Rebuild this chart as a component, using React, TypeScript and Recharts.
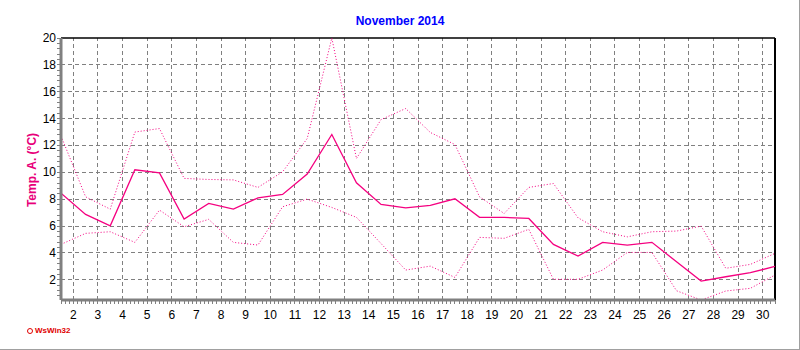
import { LineChart, Line, XAxis, YAxis, ReferenceLine } from 'recharts';

// November 2014, daily air temperature (°C)
const days = [1, 2, 3, 4, 5, 6, 7, 8, 9, 10, 11, 12, 13, 14, 15, 16, 17, 18, 19, 20, 21, 22, 23, 24, 25, 26, 27, 28, 29, 30];
const tempMean = [8.45, 6.87, 6.02, 10.19, 9.96, 6.52, 7.69, 7.26, 8.1, 8.36, 9.87, 12.82, 9.22, 7.61, 7.36, 7.54, 8.03, 6.65, 6.65, 6.57, 4.64, 3.77, 4.79, 4.59, 4.79, 3.35, 1.91, 2.23, 2.53, 3.0];
const tempMax = [12.71, 8.18, 7.26, 13.0, 13.26, 9.55, 9.47, 9.44, 8.88, 10.04, 12.52, 20, 11.03, 13.93, 14.75, 12.97, 12.07, 8.18, 6.94, 8.88, 9.17, 6.62, 5.58, 5.2, 5.58, 5.63, 6.0, 2.86, 3.15, 3.97];
const tempMin = [4.64, 5.46, 5.58, 4.79, 7.19, 5.95, 6.5, 4.79, 4.59, 7.44, 8.01, 7.39, 6.65, 4.7, 2.73, 3.02, 2.18, 5.16, 5.09, 5.76, 2.04, 2.04, 2.73, 4.04, 4.04, 1.19, 0.5, 1.17, 1.37, 2.36];

const xLabels = [2, 3, 4, 5, 6, 7, 8, 9, 10, 11, 12, 13, 14, 15, 16, 17, 18, 19, 20, 21, 22, 23, 24, 25, 26, 27, 28, 29, 30];
const yLabels = [2, 4, 6, 8, 10, 12, 14, 16, 18, 20];

const LINE = '#f50080';
const GRID = '#808080';
const FONT = '"Liberation Sans", Arial, sans-serif';

const X_MIN = 1.5;
const X_MAX = 30.5;
const Y_MIN = 0.5;
const Y_MAX = 20;

const data = days.map((d, i) => ({
  x: d + 0.5,
  mean: tempMean[i],
  max: tempMax[i],
  min: tempMin[i],
}));

// minor ticks: 6 per day on x, every 0.4 on y
const xTicks: number[] = [];
for (let v = X_MIN; v <= X_MAX + 1e-6; v += 1 / 6) xTicks.push(Math.round(v * 1000) / 1000);
const yTicks: number[] = [];
for (let v = Y_MAX; v > Y_MIN; v -= 0.4) yTicks.push(Math.round(v * 10) / 10);

const isLabel = (list: number[], v: number) => list.some((l) => Math.abs(l - v) < 1e-3);

const XTick = (props: any) => {
  const x = Number(props.x);
  const y = Number(props.y);
  const v = props.payload.value;
  const lab = isLabel(xLabels, v);
  return (
    <g>
      <line x1={x} x2={x} y1={y} y2={y + 4} stroke={GRID} strokeWidth={1} shapeRendering="crispEdges" />
      {lab && (
        <text x={x} y={y + 19} textAnchor="middle" fontSize={12} fontFamily={FONT} fill="#000">
          {Math.round(v)}
        </text>
      )}
    </g>
  );
};

const YTick = (props: any) => {
  const x = Number(props.x);
  const y = Number(props.y);
  const v = props.payload.value;
  const lab = isLabel(yLabels, v);
  return (
    <g>
      <line x1={x - 4} x2={x} y1={y} y2={y} stroke={GRID} strokeWidth={1} shapeRendering="crispEdges" />
      {lab && (
        <text x={x - 5} y={y + 4} textAnchor="end" fontSize={12} fontFamily={FONT} fill="#000">
          {Math.round(v)}
        </text>
      )}
    </g>
  );
};

export default function App() {
  return (
    <div style={{ position: 'absolute', left: 0, top: 0, width: 800, height: 350, background: '#fff', fontFamily: FONT }}>
      <div
        style={{
          position: 'absolute', left: 0, top: 14, width: 800, textAlign: 'center',
          color: '#0000ff', fontWeight: 'bold', fontSize: 12,
        }}
      >
        November 2014
      </div>
      <div
        style={{
          position: 'absolute', left: 32, top: 170, transform: 'translate(-50%, -50%) rotate(-90deg)',
          whiteSpace: 'nowrap', color: '#e8007a', fontWeight: 'bold', fontSize: 12,
        }}
      >
        Temp. A. (°C)
      </div>
      <div
        style={{
          position: 'absolute', left: 27, top: 326, color: '#e00000', fontWeight: 'bold', fontSize: 8,
          display: 'flex', alignItems: 'center', gap: 2,
        }}
      >
        <span style={{ display: 'inline-block', width: 4, height: 4, borderRadius: 3, border: '1px solid #e00000' }} />
        WsWin32
      </div>
      <div style={{ position: 'absolute', left: 0, top: 349, width: 800, height: 1, background: '#a0a0a0' }} />
      <div style={{ position: 'absolute', left: 799, top: 0, width: 1, height: 350, background: '#a0a0a0' }} />
      <LineChart width={800} height={350} data={data} margin={{ top: 38, right: 25, left: 0, bottom: 0 }}>
        <XAxis
          dataKey="x"
          type="number"
          domain={[X_MIN, X_MAX]}
          ticks={xTicks}
          interval={0}
          tick={<XTick />}
          tickLine={false}
          tickSize={0}
          tickMargin={0}
          height={50}
          axisLine={{ stroke: GRID, strokeWidth: 3 }}
          allowDataOverflow
        />
        <YAxis
          type="number"
          domain={[Y_MIN, Y_MAX]}
          ticks={yTicks}
          interval={0}
          tick={<YTick />}
          tickLine={false}
          tickSize={0}
          tickMargin={0}
          width={61}
          axisLine={{ stroke: GRID, strokeWidth: 3 }}
          allowDataOverflow
        />
        {xLabels.map((v) => (
          <ReferenceLine key={`gx-${v}`} x={v} stroke={GRID} strokeDasharray="4 3" shapeRendering="crispEdges" />
        ))}
        {yLabels.filter((v) => v < Y_MAX).map((v) => (
          <ReferenceLine key={`gy-${v}`} y={v} stroke={GRID} strokeDasharray="4 3" shapeRendering="crispEdges" />
        ))}
        <ReferenceLine y={Y_MAX} stroke="#000" strokeWidth={1.5} />
        <ReferenceLine x={X_MAX} stroke="#000" strokeWidth={2} />
        <Line type="linear" dataKey="max" stroke={LINE} strokeWidth={1} strokeDasharray="1 2" dot={false} isAnimationActive={false} />
        <Line type="linear" dataKey="min" stroke={LINE} strokeWidth={1} strokeDasharray="1 2" dot={false} isAnimationActive={false} />
        <Line type="linear" dataKey="mean" stroke={LINE} strokeWidth={1.3} dot={false} isAnimationActive={false} />
      </LineChart>
    </div>
  );
}
